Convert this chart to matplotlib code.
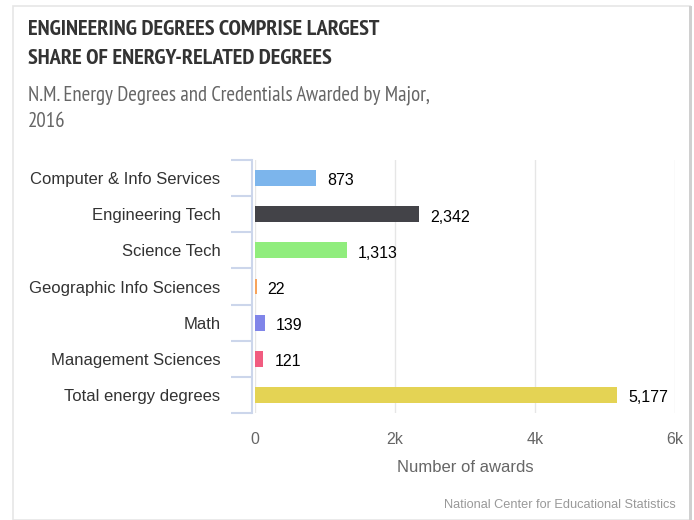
import matplotlib
matplotlib.use("Agg")
import matplotlib.pyplot as plt
from matplotlib.patches import Rectangle

plt.rcParams["font.family"] = ["Liberation Sans", "DejaVu Sans"]
NARROW = ["PT Sans Narrow", "Liberation Sans"]

categories = [
    "Computer & Info Services",
    "Engineering Tech",
    "Science Tech",
    "Geographic Info Sciences",
    "Math",
    "Management Sciences",
    "Total energy degrees",
]
awards = [873, 2342, 1313, 22, 139, 121, 5177]
bar_colors = ["#7cb5ec", "#434348", "#90ed7d", "#f7a35c", "#8085e9", "#f15c80", "#e4d354"]
x_ticks = [0, 2000, 4000, 6000]
x_tick_labels = ["0", "2k", "4k", "6k"]

W, H = 694, 520
fig = plt.figure(figsize=(W / 100, H / 100), dpi=100)

def px(x, y):
    return x / W, 1 - y / H

# card frame
fig.patches.append(Rectangle((13 / W, 0), 677 / W, 1 - 6 / H, transform=fig.transFigure,
                             facecolor="white", edgecolor="#e6e6e6", linewidth=1.2, zorder=-5))
fig.patches.append(Rectangle((689 / W, 0), 3 / W, 1 - 6 / H, transform=fig.transFigure,
                             facecolor="#d0d0d0", edgecolor="none", zorder=-4))

fig.text(*px(28, 35), "ENGINEERING DEGREES COMPRISE LARGEST", fontsize=16.1, fontweight="bold",
         color="#333333", va="baseline", ha="left", family=NARROW)
fig.text(*px(28, 64), "SHARE OF ENERGY-RELATED DEGREES", fontsize=16.1, fontweight="bold",
         color="#333333", va="baseline", ha="left", family=NARROW)
fig.text(*px(28, 100), "N.M. Energy Degrees and Credentials Awarded by Major,", fontsize=15,
         color="#666666", va="baseline", ha="left", family=NARROW)
fig.text(*px(28, 127), "2016", fontsize=15, color="#666666", va="baseline", ha="left", family=NARROW)

ax = fig.add_axes([255 / W, 1 - 413 / H, 420 / W, 253 / H])
y = list(range(len(categories)))
ax.barh(y, awards, height=0.44, color=bar_colors, zorder=3)
for yi, v in zip(y, awards):
    ax.text(v + 160, yi + 0.08, f"{v:,}", va="center", ha="left", fontsize=11.5, color="#000000", zorder=4)

ax.set_xlim(0, 6000)
ax.set_ylim(len(categories) - 0.5, -0.5)
ax.set_xticks(x_ticks)
ax.set_xticklabels(x_tick_labels)
ax.set_yticks(y)
ax.set_yticklabels(categories)
ax.set_yticks([i - 0.5 for i in range(len(categories) + 1)], minor=True)
ax.tick_params(axis="y", which="major", length=0, pad=23, labelsize=12, labelcolor="#333333")
ax.tick_params(axis="y", which="minor", length=15, color="#ccd6eb", width=1.5)
ax.tick_params(axis="x", length=0, pad=14, labelsize=11.5, labelcolor="#666666")
ax.grid(axis="x", color="#e6e6e6", linewidth=1, zorder=0)
for s in ["top", "right", "bottom"]:
    ax.spines[s].set_visible(False)
ax.spines["left"].set_color("#ccd6eb")
ax.spines["left"].set_linewidth(1.5)
ax.spines["left"].set_position(("outward", 2))
ax.set_xlabel("Number of awards", color="#666666", fontsize=12, labelpad=9)

fig.text(*px(676, 505), "National Center for Educational Statistics",
         fontsize=9.2, color="#999999", ha="right", va="center")

fig.savefig("out.png", dpi=100)
